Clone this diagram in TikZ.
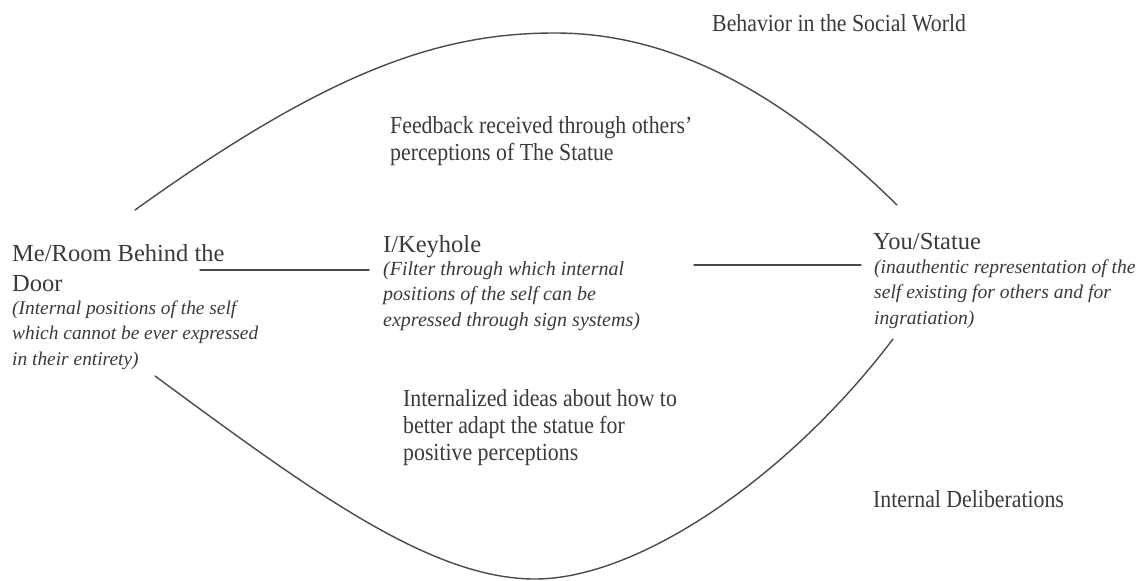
\documentclass[tikz,border=0pt]{standalone}
\usepackage{fontspec}
\setmainfont{Liberation Serif}
\newfontfamily\narrowserif[FakeStretch=0.89,Ligatures=TeX]{Liberation Serif}
\definecolor{ink}{HTML}{3A3A3A}
\definecolor{wire}{HTML}{4A4A4A}
\newcommand\mainsz{\fontsize{24.5}{30}\selectfont}
\newcommand\loopsz{\narrowserif\fontsize{24.5}{27}\selectfont}
\newcommand\notesz[1]{\fontsize{#1}{25.5}\selectfont\itshape}
\newcommand\lines[1]{\begin{tabular}[t]{@{}l@{}}#1\end{tabular}}
\begin{document}
\begin{tikzpicture}[x=1pt,y=-1pt,
  lbl/.style={anchor=base west, inner sep=0pt, text=ink, font=\mainsz},
  looplbl/.style={anchor=base west, inner sep=0pt, text=ink, font=\loopsz},
  note/.style={anchor=base west, inner sep=0pt, text=ink, font=\notesz{#1}},
  wireline/.style={draw=wire, line width=1.4pt, line cap=round}]
\useasboundingbox (0,0) rectangle (1146,581);

% headings of the two loops
\node[looplbl] (world) at (712,31) {Behavior in the Social World};
\node[looplbl] (feedback) at (390,133) {\lines{Feedback received through others’\\perceptions of The Statue}};
\node[looplbl] (ideas) at (403,406) {\lines{Internalized ideas about how to\\better adapt the statue for\\positive perceptions}};
\node[looplbl] (delib) at (873,507) {Internal Deliberations};

% the three positions of the self
\node[lbl] (me) at (12,261) {\lines{Me/Room Behind the\\Door}};
\node[note=19.4] (menote) at (12,314) {\lines{(Internal positions of the self\\which cannot be ever expressed\\in their entirety)}};

\node[lbl] (keyhole) at (383,252) {I/Keyhole};
\node[note=20] (keynote) at (383,275) {\lines{(Filter through which internal\\positions of the self can be\\expressed through sign systems)}};

\node[lbl] (statue) at (873,249) {You/Statue};
\node[note=19.6] (statnote) at (874,273) {\lines{(inauthentic representation of the\\self existing for others and for\\ingratiation)}};

% straight links between the positions
\coordinate (l1a) at (200,270);
\coordinate (l1b) at (369,270);
\coordinate (l2a) at (694,265);
\coordinate (l2b) at (861,265);
\draw[wireline] (l1a) -- (l1b);
\draw[wireline] (l2a) -- (l2b);

% outer loop (social world) and inner loop (deliberations)
\coordinate (topL) at (135,210);
\coordinate (topM) at (555,33);
\coordinate (topR) at (897,205);
\coordinate (botL) at (155,376);
\coordinate (botM) at (535,579);
\coordinate (botR) at (893,339);
\draw[wireline] (topL) .. controls (330,70) and (440,33) .. (topM)
                       .. controls (670,33) and (780,90) .. (topR);
\draw[wireline] (botL) .. controls (310,490) and (430,579) .. (botM)
                       .. controls (640,579) and (790,475) .. (botR);
\end{tikzpicture}
\end{document}
